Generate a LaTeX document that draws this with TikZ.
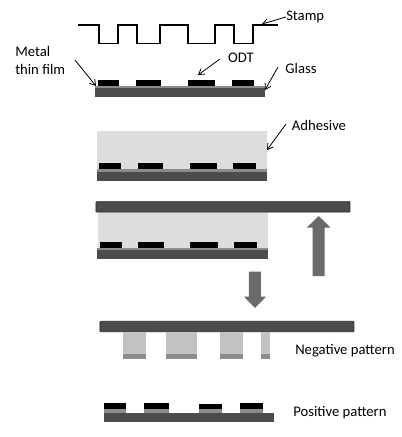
\documentclass[tikz,border=0pt]{standalone}
\usepackage{fontspec}
\setmainfont{Carlito}
\usepackage{xcolor}
\usetikzlibrary{arrows.meta, positioning}
\definecolor{glasscol}{HTML}{4C4C4C}
\definecolor{filmcol}{HTML}{8C8C8C}
\definecolor{adhcol}{HTML}{DDDDDD}
\definecolor{pillarcol}{HTML}{C2C2C2}
\definecolor{movecol}{HTML}{6A6A6A}

\begin{document}
\begin{tikzpicture}[x=0.75pt, y=-0.75pt, font=\fontsize{11}{13.5}\selectfont,
      glassbar/.style={fill=glasscol},
      filmbar/.style={fill=filmcol},
      odtpad/.style={fill=black},
      adhblock/.style={fill=adhcol},
      pillar/.style={fill=pillarcol},
      plate/.style={fill=glasscol, draw=black!85, line width=0.5pt, rounded corners=0.5pt},
      movearrow/.style={fill=movecol},
      lbl/.style={inner sep=0pt, align=left},
      callout/.style={draw, line width=0.6pt, -{Straight Barb[length=4pt, width=5pt]}}]
    \useasboundingbox (0,0) rectangle (402,437);
    % stamp
    \draw[line width=1.3pt] (78,25) -- (99,25) -- (99,43.5) -- (118,43.5) -- (118,25) -- (137,25)
      -- (137,43.5) -- (160,43.5) -- (160,25) -- (188,25) -- (188,43.5) -- (215,43.5) -- (215,25)
      -- (234,25) -- (234,43.5) -- (253,43.5) -- (253,25) -- (278,25);
    % inked substrate
    \fill[glassbar] (95,86) rectangle (265,97);
    \fill[filmbar] (95,85.5) rectangle (265,88);
    \foreach \xa/\xb in {98/119, 136/161, 188/215, 232/254}
      \fill[odtpad] (\xa,80) rectangle (\xb,85.5);
    % adhesive on substrate
    \fill[adhblock] (97,131) rectangle (267,169);
    \fill[glassbar] (97,169) rectangle (267,181);
    \fill[filmbar] (97,169) rectangle (267,171.5);
    \foreach \xa/\xb in {99/121.5, 138/163, 190/217.5, 233.5/256}
      \fill[odtpad] (\xa,163) rectangle (\xb,169);
    % top plate added
    \fill[adhblock] (98,212) rectangle (268,248);
    \fill[glassbar] (97.5,248) rectangle (268,259);
    \fill[filmbar] (97.5,248) rectangle (268,250);
    \foreach \xa/\xb in {100.5/122.5, 138.5/164, 190.5/218, 234.5/257}
      \fill[odtpad] (\xa,241.5) rectangle (\xb,248);
    \draw[plate] (96,201.7) rectangle (350,212);
    % moves
    \fill[movearrow] (318.7,216) -- (330.7,227.7) -- (324.7,227.7) -- (324.7,276)
      -- (312.7,276) -- (312.7,227.7) -- (306.7,227.7) -- cycle;
    \fill[movearrow] (255,308) -- (244,296.7) -- (249,296.7) -- (249,271.7)
      -- (261,271.7) -- (261,296.7) -- (266,296.7) -- cycle;
    % negative pattern
    \draw[plate] (100,321.3) rectangle (354,331.7);
    \foreach \xa/\xb in {123.3/146, 165.7/197.3, 220/243.3, 261.3/270} {
      \fill[pillar] (\xa,331.7) rectangle (\xb,359);
      \fill[filmbar] (\xa,354) rectangle (\xb,359);
    }
    % positive pattern
    \fill[glassbar] (104,412.7) rectangle (274,421.7);
    \foreach \xa/\xb/\ya in {104/126/403, 143.7/169/403, 199/221.7/403.5, 240/263.3/403} {
      \fill[filmbar] (\xa,409) rectangle (\xb,412.7);
      \fill[odtpad] (\xa,\ya) rectangle (\xb,409);
    }
    % labels
    \node[lbl, anchor=west] (stamp) at (286,17) {Stamp};
    \node[lbl, anchor=north west] (metal) at (15,46) {Metal\\thin film};
    \node[lbl] (odt) at (241,58) {ODT};
    \node[lbl] (glass) at (301,68) {Glass};
    \node[lbl] (adhesive) at (319,125) {Adhesive};
    \node[lbl, anchor=west] (negative) at (295,350.5) {Negative pattern};
    \node[lbl, anchor=west] (positive) at (293,413) {Positive pattern};
    % callouts
    \coordinate (stamptip) at (262,24);
    \coordinate (metalfrom) at (75,60);
    \coordinate (metaltip) at (96,86);
    \coordinate (odtfrom) at (220,59);
    \coordinate (odttip) at (198,75);
    \coordinate (glassfrom) at (278,67);
    \coordinate (glasstip) at (265,90);
    \coordinate (adhfrom) at (286,124);
    \coordinate (adhtip) at (267,150);
    \draw[callout] (stamp.west) -- (stamptip);
    \draw[callout] (metalfrom) -- (metaltip);
    \draw[callout] (odtfrom) -- (odttip);
    \draw[callout] (glassfrom) -- (glasstip);
    \draw[callout] (adhfrom) -- (adhtip);
  \end{tikzpicture}
\end{document}
